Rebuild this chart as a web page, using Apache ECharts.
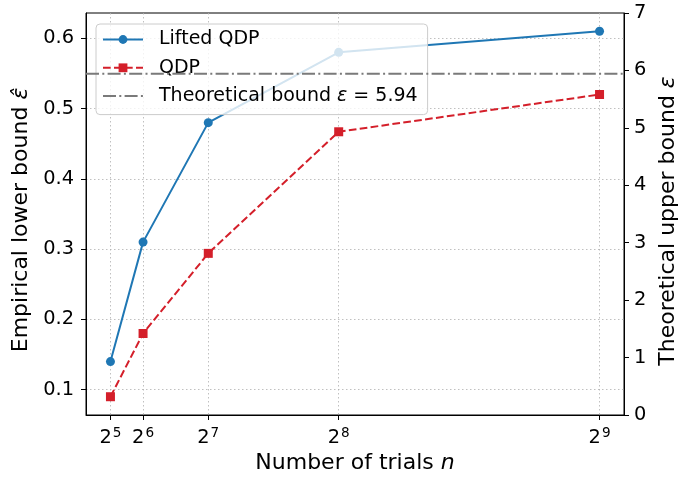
<!DOCTYPE html>
<html>
<head>
<meta charset="utf-8">
<script src="https://cdn.jsdelivr.net/npm/echarts@6/dist/echarts.min.js"></script>
<style>html,body{margin:0;padding:0;background:#fff}#c{width:681px;height:480px}</style>
</head>
<body>
<div id="c"></div>
<script>
var trials = [32, 64, 128, 256, 512];
var xTickLabels = ['5', '6', '7', '8', '9'];
var liftedQDP = [0.14, 0.31, 0.48, 0.58, 0.61];
var qdp = [0.09, 0.18, 0.294, 0.467, 0.52];
var boundValue = 5.94;
var leftTicks = [0.1, 0.2, 0.3, 0.4, 0.5, 0.6];
var xMin = 8, xMax = 536, yMin = 0.064, yMax = 0.636, y2Min = 0, y2Max = 7;

var FONT = 'DejaVu Sans';
var TICK = 19.4, LAB = 22, LEG = 19;
var chart = echarts.init(document.getElementById('c'));
var gridLine = {show: true, lineStyle: {color: '#b0b0b0', type: [1.5, 2.5], width: 0.8}};
function pairs(xs, ys) { return xs.map(function (x, i) { return [x, ys[i]]; }); }
function nameStyle(pad) {
  return {fontFamily: FONT, fontSize: LAB, color: '#000', padding: pad,
    rich: {i: {fontFamily: FONT, fontSize: LAB, fontStyle: 'italic', color: '#000'}}};
}

chart.setOption({
  animation: false,
  textStyle: {fontFamily: FONT},
  grid: {left: 86, right: 57, top: 13, bottom: 65, show: true, borderColor: '#000', borderWidth: 1,
    backgroundColor: 'transparent', containLabel: false, outerBoundsMode: 'none'},
  legend: {
    orient: 'vertical', left: 96, top: 24,
    padding: [6, 10, 9, 6], itemGap: 9.3, itemWidth: 40, itemHeight: 11,
    backgroundColor: 'rgba(255,255,255,0.8)', borderColor: '#cccccc', borderWidth: 1, borderRadius: 4,
    textStyle: {fontFamily: FONT, fontSize: LEG, color: '#000', padding: [0, 0, 0, 11],
      rich: {i: {fontFamily: FONT, fontStyle: 'italic', fontSize: LEG, color: '#000'}}},
    formatter: function (n) { return n === 'bound' ? 'Theoretical bound {i|ε} = ' + boundValue : n; },
    data: ['Lifted QDP', 'QDP', {name: 'bound', itemStyle: {opacity: 0}}]
  },
  xAxis: {
    type: 'value', min: xMin, max: xMax,
    name: 'Number of trials {i|n}', nameLocation: 'middle', nameGap: 36,
    nameTextStyle: nameStyle([0, 0, 0, 0]),
    axisLine: {show: true, onZero: false, lineStyle: {color: '#000'}},
    axisTick: {show: true, length: 5, customValues: trials, lineStyle: {color: '#000'}},
    axisLabel: {
      customValues: trials, margin: 11, color: '#000',
      formatter: function (v) { var i = trials.indexOf(v); return '{b|2}{s|' + xTickLabels[i] + '}'; },
      rich: {b: {fontFamily: FONT, fontSize: TICK, color: '#000', verticalAlign: 'bottom'},
             s: {fontFamily: FONT, fontSize: 13.6, color: '#000', verticalAlign: 'bottom', padding: [0, 0, 7, 1]}}
    },
    splitLine: gridLine
  },
  yAxis: [{
    type: 'value', min: yMin, max: yMax, position: 'left',
    name: 'Empirical lower bound {i|ε̂}', nameLocation: 'middle', nameGap: 54, nameRotate: 90,
    nameTextStyle: nameStyle([0, 12, 0, 0]),
    axisLine: {show: true, lineStyle: {color: '#000'}},
    axisTick: {show: true, length: 5, customValues: leftTicks, lineStyle: {color: '#000'}},
    axisLabel: {customValues: leftTicks, margin: 12, fontFamily: FONT, fontSize: TICK, color: '#000',
      formatter: function (v) { return v.toFixed(1); }},
    splitLine: gridLine
  }, {
    type: 'value', min: y2Min, max: y2Max, interval: 1, position: 'right',
    name: 'Theoretical upper bound {i|ε}', nameLocation: 'middle', nameGap: 28, nameRotate: 90,
    nameTextStyle: nameStyle([0, 14, 0, 0]),
    axisLine: {show: true, lineStyle: {color: '#000'}},
    axisTick: {show: true, length: 5, lineStyle: {color: '#000'}},
    axisLabel: {margin: 10, fontFamily: FONT, fontSize: TICK, color: '#000'},
    splitLine: {show: false}
  }],
  series: [{
    name: 'Lifted QDP', type: 'line', yAxisIndex: 0, z: 2,
    data: pairs(trials, liftedQDP),
    symbol: 'circle', symbolSize: 9,
    lineStyle: {color: '#1f77b4', width: 2},
    itemStyle: {color: '#1f77b4'}
  }, {
    name: 'QDP', type: 'line', yAxisIndex: 0, z: 2,
    data: pairs(trials, qdp),
    symbol: 'rect', symbolSize: 9,
    lineStyle: {color: '#d41f2a', width: 2, type: [7.7, 3.3]},
    itemStyle: {color: '#d41f2a'}
  }, {
    name: 'bound', type: 'line', yAxisIndex: 1, z: 10,
    data: [[xMin, boundValue], [xMax, boundValue]],
    symbol: 'none', showSymbol: false,
    lineStyle: {color: '#7a7a7a', width: 2, type: [13, 3.3, 2, 3.3]},
    itemStyle: {color: '#7a7a7a'}
  }]
});
</script>
</body>
</html>
